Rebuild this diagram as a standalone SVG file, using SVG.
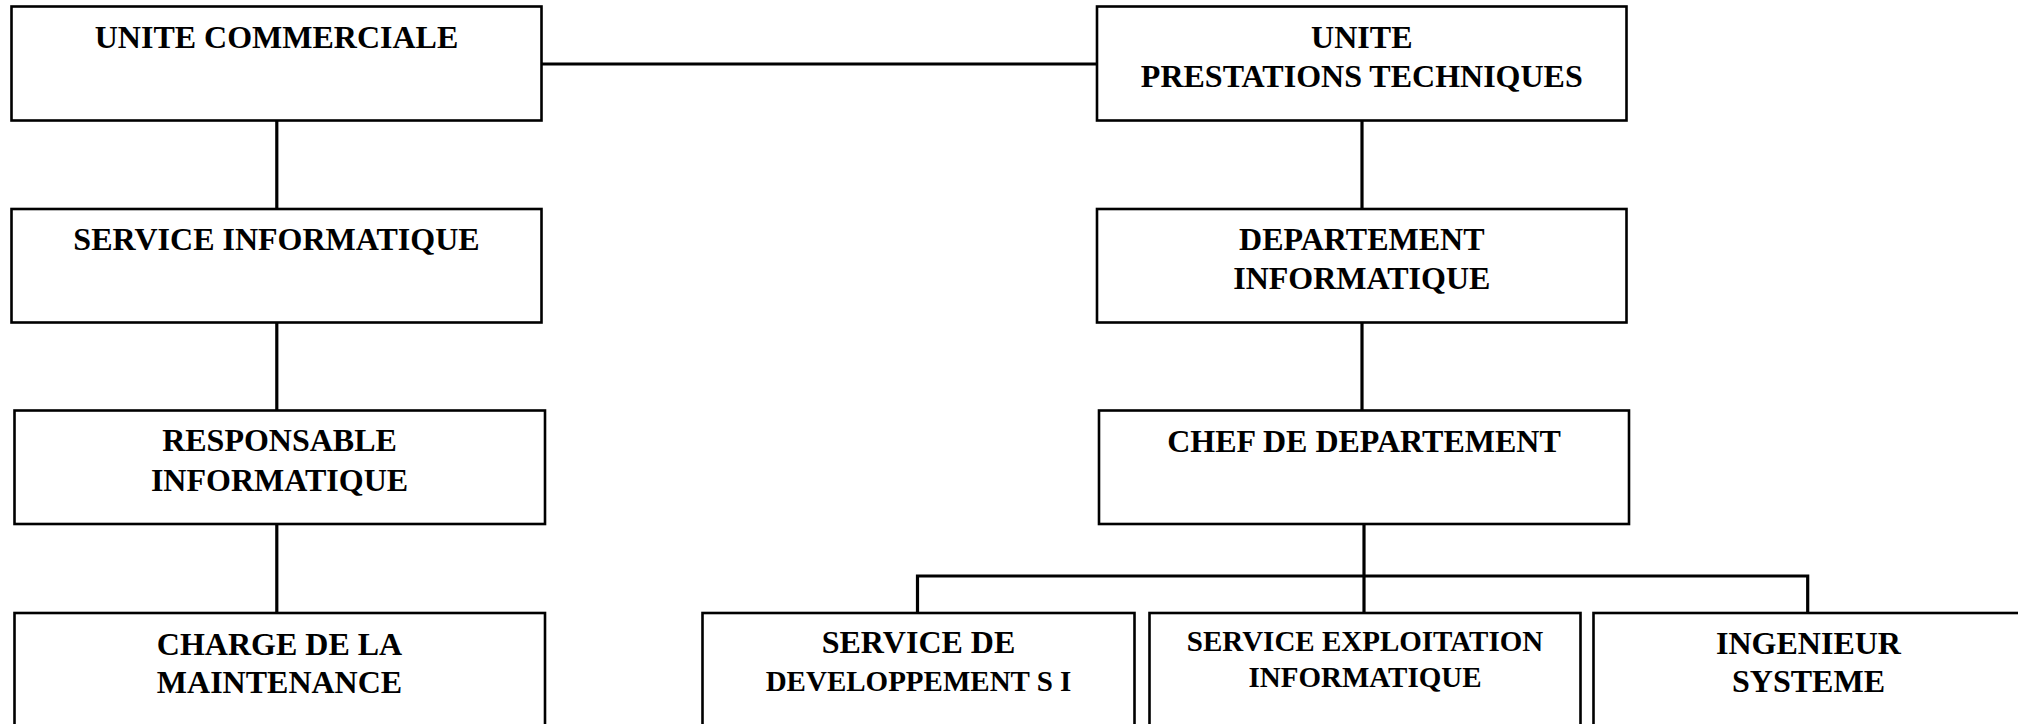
<svg xmlns="http://www.w3.org/2000/svg" width="2018" height="724" viewBox="0 0 2018 724">
  <style>
    .box { fill: #ffffff; stroke: #000000; stroke-width: 2.6; }
    .wire { fill: none; stroke: #000000; stroke-width: 3.2; stroke-linecap: butt; }
    .lbl { font-family: "Liberation Serif", "Times New Roman", serif; font-weight: bold; font-size: 32px; fill: #000000; text-anchor: middle; }
    .lbl-s { font-size: 29px; }
  </style>
  <rect width="2018" height="724" fill="#ffffff"/>

  <!-- links between units -->
  <g id="connectors">
    <path class="wire" d="M541.5 64 H1097"/>
    <path class="wire" d="M276.8 120.5 V209"/>
    <path class="wire" d="M276.8 322.5 V410.5"/>
    <path class="wire" d="M276.8 524 V613"/>
    <path class="wire" d="M1362 120.5 V209"/>
    <path class="wire" d="M1362 322.5 V410.5"/>
    <path class="wire" d="M1364 524 V613"/>
    <path class="wire" d="M917.5 613 V576 H1807.7 V613"/>
  </g>

  <g id="unite-commerciale">
    <rect class="box" x="11.5" y="6.5" width="530" height="114"/>
    <text class="lbl" x="276.5" y="48">UNITE COMMERCIALE</text>
  </g>

  <g id="unite-prestations">
    <rect class="box" x="1097" y="6.5" width="529.5" height="114"/>
    <text class="lbl" x="1361.8" y="47.5">UNITE</text>
    <text class="lbl" x="1361.8" y="87">PRESTATIONS TECHNIQUES</text>
  </g>

  <g id="service-informatique">
    <rect class="box" x="11.5" y="209" width="530" height="113.5"/>
    <text class="lbl" x="276.5" y="250">SERVICE INFORMATIQUE</text>
  </g>

  <g id="departement-informatique">
    <rect class="box" x="1097" y="209" width="529.5" height="113.5"/>
    <text class="lbl" x="1361.8" y="250">DEPARTEMENT</text>
    <text class="lbl" x="1361.8" y="289">INFORMATIQUE</text>
  </g>

  <g id="responsable-informatique">
    <rect class="box" x="14.5" y="410.5" width="530.5" height="113.5"/>
    <text class="lbl" x="279.5" y="451">RESPONSABLE</text>
    <text class="lbl" x="279.5" y="491">INFORMATIQUE</text>
  </g>

  <g id="chef-departement">
    <rect class="box" x="1099" y="410.5" width="530" height="113.5"/>
    <text class="lbl" x="1364" y="452">CHEF DE DEPARTEMENT</text>
  </g>

  <g id="charge-maintenance">
    <rect class="box" x="14.5" y="613" width="530.5" height="114"/>
    <text class="lbl" x="279.5" y="655">CHARGE DE LA</text>
    <text class="lbl" x="279.5" y="692.5">MAINTENANCE</text>
  </g>

  <g id="service-developpement">
    <rect class="box" x="702.5" y="613" width="432" height="114"/>
    <text class="lbl" x="918.5" y="653">SERVICE DE</text>
    <text class="lbl lbl-s" x="918.5" y="690.5">DEVELOPPEMENT S I</text>
  </g>

  <g id="service-exploitation">
    <rect class="box" x="1149.5" y="613" width="431" height="114"/>
    <text class="lbl lbl-s" x="1365" y="650.5">SERVICE EXPLOITATION</text>
    <text class="lbl lbl-s" x="1365" y="686.5">INFORMATIQUE</text>
  </g>

  <g id="ingenieur-systeme">
    <rect class="box" x="1593.5" y="613" width="431" height="114"/>
    <text class="lbl" x="1808.5" y="654">INGENIEUR</text>
    <text class="lbl" x="1808.5" y="691.5">SYSTEME</text>
  </g>
</svg>
